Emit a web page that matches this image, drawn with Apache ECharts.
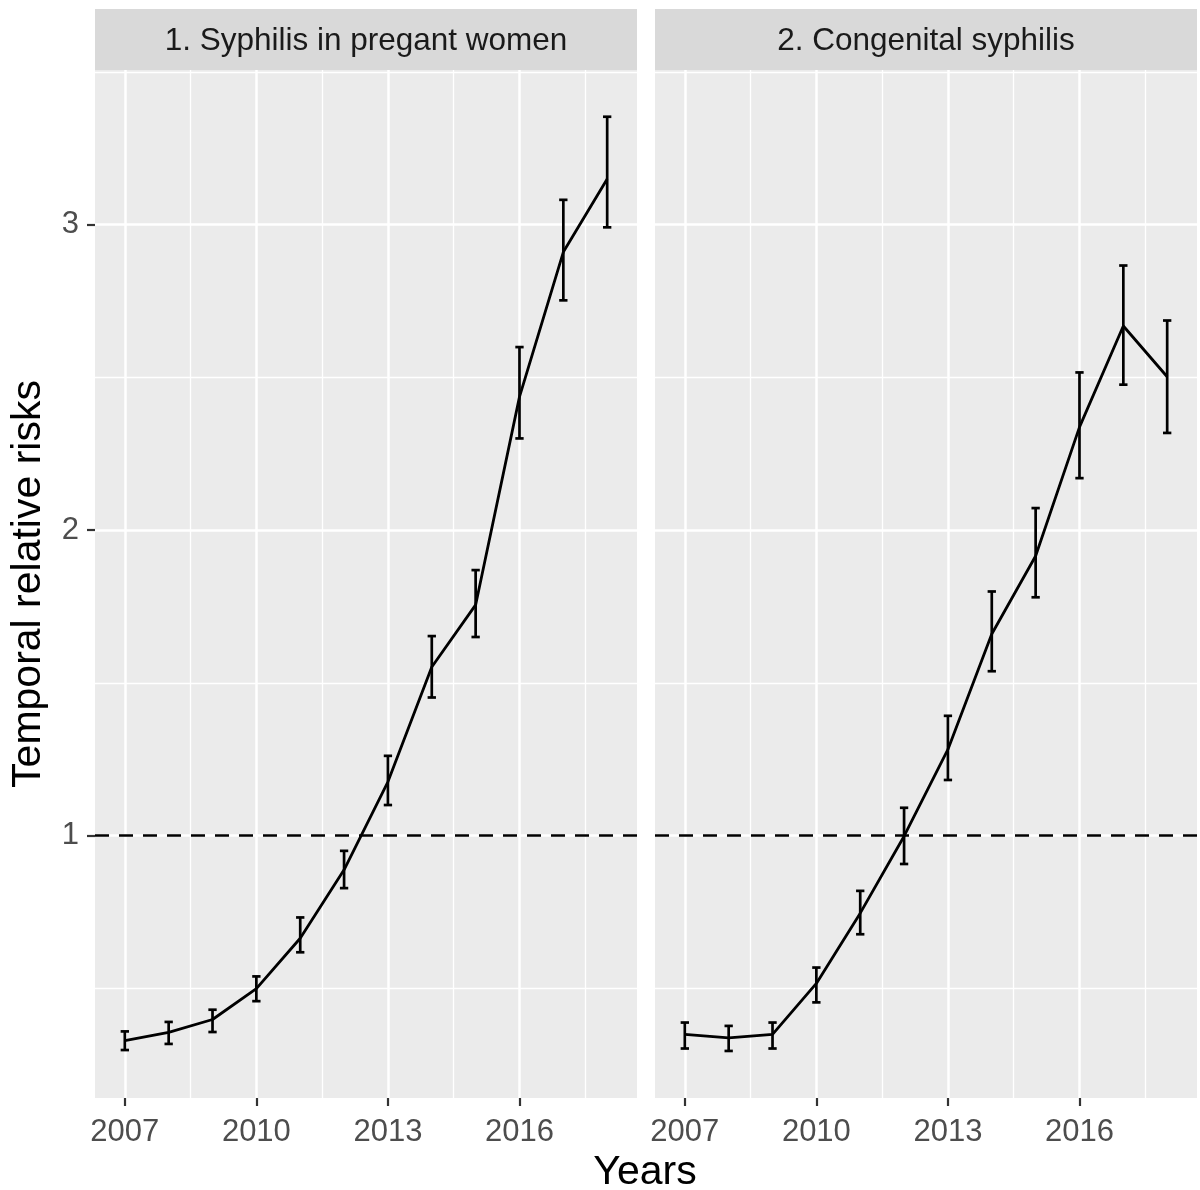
<!DOCTYPE html>
<html>
<head>
<meta charset="utf-8">
<script src="https://cdn.jsdelivr.net/npm/echarts@6/dist/echarts.min.js"></script>
<style>
  html, body { margin: 0; padding: 0; background: #fff; }
  #chart { width: 1200px; height: 1190px; }
</style>
</head>
<body>
<div id="chart"></div>
<script>
const years = [2007, 2008, 2009, 2010, 2011, 2012, 2013, 2014, 2015, 2016, 2017, 2018];

// 1. Syphilis in pregnant women
const pregEst  = [0.329, 0.356, 0.398, 0.499, 0.664, 0.888, 1.176, 1.552, 1.755, 2.436, 2.910, 3.149];
const pregLow  = [0.298, 0.318, 0.357, 0.458, 0.618, 0.828, 1.100, 1.452, 1.650, 2.300, 2.752, 2.991];
const pregHigh = [0.359, 0.390, 0.430, 0.539, 0.732, 0.950, 1.261, 1.653, 1.869, 2.599, 3.081, 3.353];

// 2. Congenital syphilis
const congEst  = [0.349, 0.338, 0.349, 0.516, 0.746, 0.998, 1.282, 1.660, 1.915, 2.337, 2.668, 2.502];
const congLow  = [0.303, 0.295, 0.303, 0.454, 0.677, 0.907, 1.182, 1.538, 1.780, 2.170, 2.476, 2.318];
const congHigh = [0.388, 0.377, 0.388, 0.568, 0.819, 1.091, 1.392, 1.799, 2.072, 2.516, 2.866, 2.686];

const panelTitles = ["1. Syphilis in pregant women", "2. Congenital syphilis"];

const xTicks = [2007, 2010, 2013, 2016];
const xMinor = [2008.5, 2011.5, 2014.5, 2017.5];
const yTicks = [1, 2, 3];
const yMinor = [0.5, 1.5, 2.5, 3.5];
const refLine = 1;

const xMin = 2006.32, xMax = 2018.68;
const yMin = 0.141, yMax = 3.506;

const font = "Liberation Sans, Arial, sans-serif";
const chart = echarts.init(document.getElementById("chart"));

const grids = [
  { left: 95, right: 563, top: 70, bottom: 92 },
  { left: 655, right: 3, top: 70, bottom: 92 }
];

function markSeries(i, data, z) {
  return {
    type: "line",
    xAxisIndex: i,
    yAxisIndex: i,
    data: [],
    z: z,
    silent: true,
    markLine: {
      silent: true,
      symbol: ["none", "none"],
      label: { show: false },
      animation: false,
      data: data
    }
  };
}

function gridLines(i) {
  const minor = { color: "#ffffff", width: 1.3, type: "solid" };
  const major = { color: "#ffffff", width: 2.5, type: "solid" };
  const data = [];
  yMinor.forEach(v => data.push({ yAxis: v, lineStyle: minor }));
  xMinor.forEach(v => data.push({ xAxis: v, lineStyle: minor }));
  yTicks.forEach(v => data.push({ yAxis: v, lineStyle: major }));
  xTicks.forEach(v => data.push({ xAxis: v, lineStyle: major }));
  return markSeries(i, data, 1);
}

function refSeries(i) {
  const s = markSeries(i, [{ yAxis: refLine, lineStyle: { color: "#000", width: 2.7, type: [14, 10] } }], 1);
  s.zlevel = 1;
  return s;
}

function lineSeries(i, est) {
  return {
    type: "line",
    xAxisIndex: i,
    yAxisIndex: i,
    data: years.map((y, k) => [y, est[k]]),
    symbol: "none",
    lineStyle: { color: "#000", width: 2.8 },
    zlevel: 1,
    z: 3,
    animation: false
  };
}

function errSeries(i, low, high) {
  return {
    type: "custom",
    xAxisIndex: i,
    yAxisIndex: i,
    data: years.map((y, k) => [y, low[k], high[k]]),
    encode: { x: 0, y: [1, 2] },
    zlevel: 1,
    z: 4,
    animation: false,
    renderItem: function (params, api) {
      const x = api.value(0);
      const top = api.coord([x, api.value(2)]);
      const bot = api.coord([x, api.value(1)]);
      const hw = api.size([0.095, 0])[0];
      const st = { stroke: "#000", lineWidth: 2.7 };
      return {
        type: "group",
        children: [
          { type: "line", shape: { x1: top[0], y1: top[1], x2: bot[0], y2: bot[1] }, style: st },
          { type: "line", shape: { x1: top[0] - hw, y1: top[1], x2: top[0] + hw, y2: top[1] }, style: st },
          { type: "line", shape: { x1: bot[0] - hw, y1: bot[1], x2: bot[0] + hw, y2: bot[1] }, style: st }
        ]
      };
    }
  };
}

const xAxes = grids.map((g, i) => ({
  type: "value",
  gridIndex: i,
  min: xMin,
  max: xMax,
  axisLine: { show: false },
  splitLine: { show: false },
  axisTick: { show: true, customValues: xTicks, length: 8, lineStyle: { color: "#333", width: 2.2 } },
  axisLabel: {
    customValues: xTicks,
    formatter: v => String(v),
    color: "#4D4D4D",
    fontSize: 31,
    fontFamily: font,
    margin: 19
  }
}));

const yAxes = grids.map((g, i) => ({
  type: "value",
  gridIndex: i,
  min: yMin,
  max: yMax,
  axisLine: { show: false },
  splitLine: { show: false },
  axisTick: { show: i === 0, customValues: yTicks, length: 8, lineStyle: { color: "#333", width: 2.2 } },
  axisLabel: {
    show: i === 0,
    customValues: yTicks,
    color: "#4D4D4D",
    fontSize: 31,
    fontFamily: font,
    margin: 16
  },
  name: i === 0 ? "Temporal relative risks" : "",
  nameLocation: "middle",
  nameGap: 46,
  nameTextStyle: { color: "#000", fontSize: 41, fontFamily: font }
}));

const graphics = [];
grids.forEach((g, i) => {
  const x0 = g.left;
  const w = 1200 - g.left - g.right;
  graphics.push({
    type: "rect",
    shape: { x: x0, y: 9, width: w, height: 61 },
    style: { fill: "#D9D9D9" },
    silent: true
  });
  graphics.push({
    type: "text",
    x: x0 + w / 2,
    y: 41,
    style: {
      text: panelTitles[i],
      fill: "#1A1A1A",
      font: "31.5px " + font,
      textAlign: "center",
      textVerticalAlign: "middle"
    },
    silent: true
  });
});
graphics.push({
  type: "text",
  x: 645,
  y: 1173,
  style: {
    text: "Years",
    fill: "#000",
    font: "41px " + font,
    textAlign: "center",
    textVerticalAlign: "middle"
  },
  silent: true
});

chart.setOption({
  animation: false,
  backgroundColor: "#ffffff",
  grid: grids.map(g => Object.assign({ show: true, backgroundColor: "#EBEBEB", borderWidth: 0 }, g)),
  xAxis: xAxes,
  yAxis: yAxes,
  graphic: graphics,
  series: [
    gridLines(0), gridLines(1),
    refSeries(0), refSeries(1),
    lineSeries(0, pregEst), lineSeries(1, congEst),
    errSeries(0, pregLow, pregHigh), errSeries(1, congLow, congHigh)
  ]
});
</script>
</body>
</html>
